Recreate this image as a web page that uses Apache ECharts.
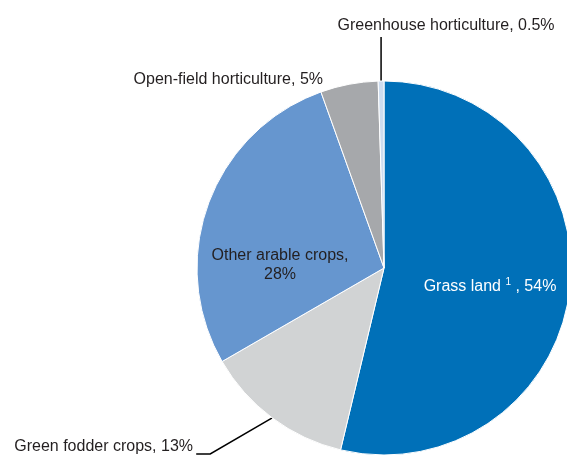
<!DOCTYPE html>
<html>
<head>
<meta charset="utf-8">
<script src="https://cdn.jsdelivr.net/npm/echarts@6/dist/echarts.min.js"></script>
<style>html,body{margin:0;padding:0;background:#fff}#c{width:567px;height:457px}</style>
</head>
<body>
<div id="c"></div>
<script>
const categories = ['Grass land', 'Green fodder crops', 'Other arable crops', 'Open-field horticulture', 'Greenhouse horticulture'];
const values = [54, 13, 28, 5, 0.5];
const colors = ['#0070b8', '#d1d3d4', '#6696cf', '#a6a8ab', '#cddcef'];

// detect narrow font
const cv = document.createElement('canvas').getContext('2d');
cv.font = '18px "Liberation Sans Narrow", monospace';
const w1 = cv.measureText('abcdefghijklm').width;
cv.font = '18px monospace';
const w2 = cv.measureText('abcdefghijklm').width;
const narrow = Math.abs(w1 - w2) > 0.5;
const FF = narrow ? '"Liberation Sans Narrow", "Liberation Sans", Arial, sans-serif' : '"Liberation Sans", Arial, sans-serif';
const FS = narrow ? 18 : 16;
const TXT = '#231f20';

const chart = echarts.init(document.getElementById('c'), null, {renderer: 'canvas'});

const data = categories.map((name, i) => {
  const d = {name, value: values[i], itemStyle: {color: colors[i]}};
  if (i === 0) {
    d.label = {position: 'inside', color: '#fff',
      formatter: p => '{a|' + p.name + ' }{s|1}{a| , ' + p.value + '%}'};
    d.labelLine = {show: false};
  } else if (i === 2) {
    d.label = {position: 'inside', color: TXT, align: 'center',
      formatter: p => p.name + ',\n' + p.value + '%'};
    d.labelLine = {show: false};
  } else if (i === 3) {
    d.label = {position: 'outside'};
    d.labelLine = {show: false};
  } else {
    d.label = {position: 'outside'};
    d.labelLine = {show: true};
  }
  return d;
});

chart.setOption({
  animation: false,
  series: [{
    type: 'pie',
    center: [384, 268],
    radius: 187,
    startAngle: 90,
    clockwise: true,
    avoidLabelOverlap: false,
    itemStyle: {borderColor: '#fff', borderWidth: 1},
    label: {
      show: true,
      fontFamily: FF,
      fontSize: FS,
      color: TXT,
      lineHeight: FS + 3,
      formatter: p => p.name + ', ' + p.value + '%',
      rich: {
        a: {fontFamily: FF, fontSize: FS, color: '#fff', lineHeight: FS + 3},
        s: {fontFamily: FF, fontSize: Math.round(FS * 0.6), color: '#fff', verticalAlign: 'top', lineHeight: FS + 3, padding: [0, 0, 8, 0]}
      }
    },
    labelLine: {lineStyle: {color: '#000', width: 1.5}, length: 20, length2: 10, smooth: false},
    labelLayout: function (p) {
      const i = p.dataIndex;
      if (i === 0) return {x: 490, y: 287, align: 'center', verticalAlign: 'middle'};
      if (i === 2) return {x: 280, y: 265, align: 'center', verticalAlign: 'middle'};
      if (i === 3) return {x: 323, y: 80, align: 'right', verticalAlign: 'middle'};
      if (i === 4) {
        const p0 = p.labelLinePoints ? p.labelLinePoints[0] : [381, 81];
        return {x: 446, y: 26, align: 'center', verticalAlign: 'middle',
          labelLinePoints: [[p0[0], p0[1]], [p0[0], p0[1] - 44], [p0[0], p0[1] - 44]]};
      }
      if (i === 1) {
        const p0 = p.labelLinePoints ? p.labelLinePoints[0] : [273, 418];
        return {x: 193, y: 447, align: 'right', verticalAlign: 'middle',
          labelLinePoints: [[p0[0], p0[1]], [p0[0] - 62, p0[1] + 36], [p0[0] - 76, p0[1] + 36]]};
      }
    },
    data
  }]
});
</script>
</body>
</html>
